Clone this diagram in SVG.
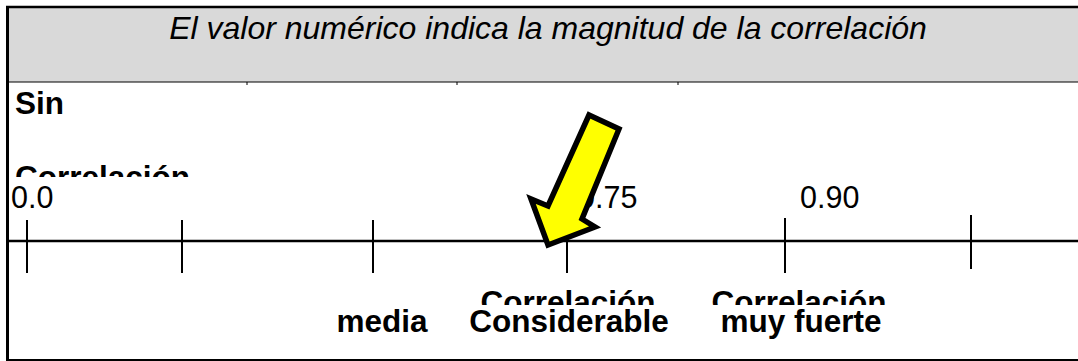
<svg xmlns="http://www.w3.org/2000/svg" width="1078" height="361" viewBox="0 0 1078 361">
<style>
.lbl{font-family:"Liberation Sans",Arial,sans-serif;font-size:31.5px;font-weight:bold;fill:#000}
.num{font-family:"Liberation Sans",Arial,sans-serif;font-size:30.5px;fill:#000}
.title{font-family:"Liberation Sans",Arial,sans-serif;font-size:32px;font-style:italic;fill:#000}
.tick{stroke:#000;stroke-width:2}
</style>
<defs>
<clipPath id="clipL"><rect x="0" y="150" width="300" height="27"/></clipPath>
<clipPath id="clipB"><rect x="400" y="280" width="600" height="25"/></clipPath>
</defs>
<rect x="0" y="0" width="1078" height="361" fill="#fff"/>
<g id="header">
<rect x="8" y="7" width="1075" height="75" fill="#d9d9d9"/>
<line x1="8" y1="82" x2="1078" y2="82" stroke="#000" stroke-width="1"/>
<line x1="247" y1="82" x2="247" y2="85" stroke="#000" stroke-width="1"/>
<line x1="457" y1="82" x2="457" y2="85" stroke="#000" stroke-width="1"/>
<line x1="678" y1="82" x2="678" y2="85" stroke="#000" stroke-width="1"/>
<text class="title" x="548" y="39" text-anchor="middle">El valor numérico indica la magnitud de la correlación</text>
</g>
<g id="frame" fill="none" stroke="#000">
<line x1="7.5" y1="6" x2="7.5" y2="361" stroke-width="3"/>
<line x1="6" y1="7" x2="1078" y2="7" stroke-width="2.5"/>
<line x1="6" y1="360" x2="1078" y2="360" stroke-width="2"/>
</g>
<g id="sin-correlacion">
<text class="lbl" x="15" y="114">Sin</text>
<text class="lbl" x="15" y="188" clip-path="url(#clipL)">Correlación</text>
</g>
<g id="numbers">
<text class="num" x="11" y="208">0.0</text>
<text class="num" x="578" y="208">0.75</text>
<text class="num" x="800" y="208">0.90</text>
</g>
<g id="connectors">
<line x1="8" y1="241" x2="1078" y2="241" stroke="#000" stroke-width="2.5"/>
<line class="tick" x1="27" y1="220" x2="27" y2="273"/>
<line class="tick" x1="182" y1="220" x2="182" y2="273"/>
<line class="tick" x1="373" y1="220" x2="373" y2="273"/>
<line class="tick" x1="567" y1="241" x2="567" y2="273"/>
<line class="tick" x1="785" y1="218" x2="785" y2="273"/>
<line class="tick" x1="971" y1="215" x2="971" y2="269"/>
</g>
<g id="arrow">
<polygon points="589,115 619,129 582,219 595,227 548,245 531,199 548,206" fill="#ffff00" stroke="#000" stroke-width="5.5" stroke-linejoin="miter"/>
</g>
<g id="bottom-labels">
<text class="lbl" x="382" y="332" text-anchor="middle">media</text>
<text class="lbl" x="568" y="313" text-anchor="middle" clip-path="url(#clipB)">Correlación</text>
<text class="lbl" x="569" y="332" text-anchor="middle">Considerable</text>
<text class="lbl" x="799" y="313" text-anchor="middle" clip-path="url(#clipB)">Correlación</text>
<text class="lbl" x="801" y="332" text-anchor="middle">muy fuerte</text>
</g>
</svg>
